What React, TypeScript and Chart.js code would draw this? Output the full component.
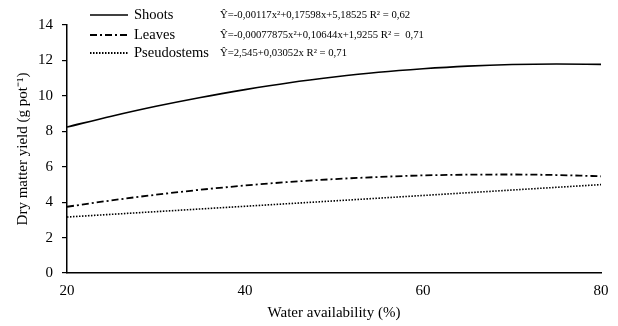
import React, { useEffect, useRef } from "react";
import { Chart, registerables } from "chart.js";

Chart.register(...registerables);

const xValues = [20, 25, 30, 35, 40, 45, 50, 55, 60, 65, 70, 75, 80];
const shoots = [8.24, 8.85, 9.41, 9.91, 10.35, 10.74, 11.06, 11.33, 11.53, 11.68, 11.77, 11.8, 11.78];
const leaves = [3.74, 4.1, 4.42, 4.7, 4.94, 5.14, 5.3, 5.42, 5.51, 5.55, 5.56, 5.53, 5.46];
const pseudoX = [20, 50, 80];
const pseudostems = [3.16, 4.07, 4.99];

const seriesNames = ["Shoots", "Leaves", "Pseudostems"];
const equations = [
  "Ŷ=-0,00117x²+0,17598x+5,18525 R² = 0,62",
  "Ŷ=-0,00077875x²+0,10644x+1,9255 R² =  0,71",
  "Ŷ=2,545+0,03052x R² = 0,71",
];
const yTicks = [0, 2, 4, 6, 8, 10, 12, 14];
const xTicks = [20, 40, 60, 80];

const dashes: number[][] = [[], [7, 3, 2, 3], [1.5, 1.5]];
const SERIF = "'Liberation Serif', 'Times New Roman', serif";

const legendPlugin = {
  id: "customLegend",
  afterDraw(chart: any) {
    const ctx = chart.ctx;
    const rows = [15, 35, 53];
    ctx.save();
    rows.forEach((y, i) => {
      ctx.beginPath();
      ctx.setLineDash(dashes[i]);
      ctx.lineWidth = i === 0 ? 1.6 : 1.8;
      ctx.strokeStyle = "#000";
      ctx.moveTo(90, y);
      ctx.lineTo(128, y);
      ctx.stroke();
      ctx.setLineDash([]);
      ctx.fillStyle = "#000";
      ctx.textBaseline = "middle";
      ctx.textAlign = "left";
      ctx.font = `14.5px ${SERIF}`;
      ctx.fillText(seriesNames[i], 134, y);
      ctx.font = `10.7px ${SERIF}`;
      ctx.fillText(equations[i], 220, y);
    });
    ctx.restore();
  },
};

export default function App() {
  const ref = useRef<HTMLCanvasElement>(null);
  useEffect(() => {
    if (!ref.current) return;
    const mk = (xs: number[], ys: number[]) => xs.map((x, i) => ({ x, y: ys[i] }));
    const chart = new Chart(ref.current, {
      type: "line",
      data: {
        datasets: [
          { label: seriesNames[0], data: mk(xValues, shoots), borderColor: "#000", borderWidth: 1.6, borderDash: dashes[0], pointRadius: 0, tension: 0.4, cubicInterpolationMode: "monotone", fill: false },
          { label: seriesNames[1], data: mk(xValues, leaves), borderColor: "#000", borderWidth: 1.8, borderDash: dashes[1], pointRadius: 0, tension: 0.4, cubicInterpolationMode: "monotone", fill: false },
          { label: seriesNames[2], data: mk(pseudoX, pseudostems), borderColor: "#000", borderWidth: 1.6, borderDash: dashes[2], pointRadius: 0, tension: 0, fill: false },
        ],
      } as any,
      options: {
        animation: false,
        responsive: false,
        maintainAspectRatio: false,
        layout: { padding: { top: 25, right: 17, left: 0, bottom: 0 } },
        plugins: { legend: { display: false }, tooltip: { enabled: false } },
        scales: {
          x: {
            type: "linear",
            min: 20,
            max: 80,
            afterBuildTicks: (s: any) => { s.ticks = xTicks.map((v) => ({ value: v })); },
            afterFit: (s: any) => { s.height = 53; },
            grid: { display: false, drawTicks: false },
            border: { color: "#000", width: 1.5 },
            ticks: { color: "#000", padding: 9, font: { family: SERIF, size: 15 }, maxRotation: 0 },
            title: { display: true, text: "Water availability (%)", color: "#000", font: { family: SERIF, size: 15 }, padding: { top: 0, bottom: 4 } },
          },
          y: {
            min: 0,
            max: 14,
            afterBuildTicks: (s: any) => { s.ticks = yTicks.map((v) => ({ value: v })); },
            afterFit: (s: any) => { s.width = 67; },
            grid: { display: true, drawOnChartArea: false, drawTicks: true, tickLength: 5, color: "#000", lineWidth: 1.2 },
            border: { color: "#000", width: 1.5 },
            ticks: { color: "#000", padding: 9, font: { family: SERIF, size: 15 } },
            title: { display: true, text: "Dry matter yield (g pot⁻¹)", color: "#000", font: { family: SERIF, size: 15 }, padding: { top: 14, bottom: 0 } },
          },
        },
      } as any,
      plugins: [legendPlugin],
    });
    return () => chart.destroy();
  }, []);
  return (
    <div style={{ position: "fixed", left: 0, top: 0, width: 618, height: 326, background: "#fff" }}>
      <canvas ref={ref} width={618} height={326} style={{ width: 618, height: 326 }} />
    </div>
  );
}
